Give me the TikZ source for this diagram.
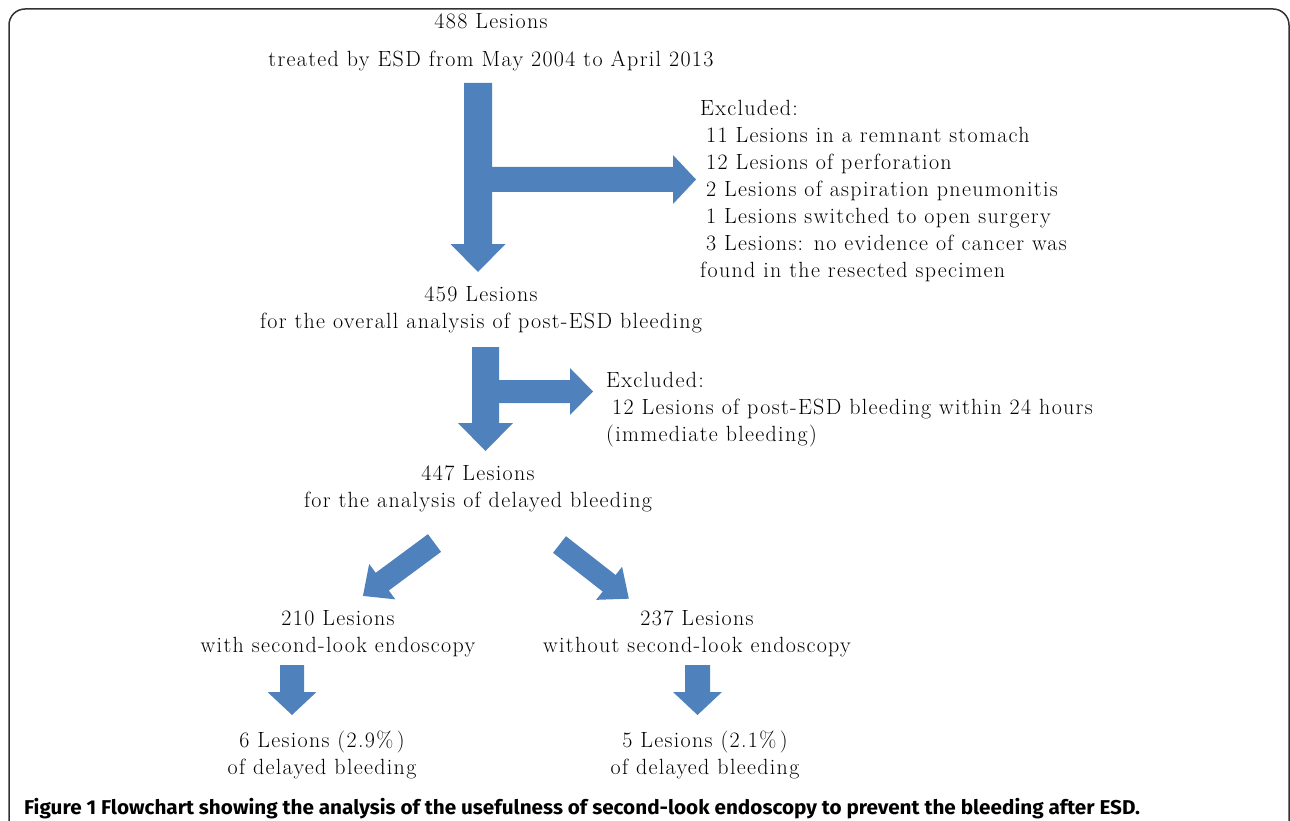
\documentclass[tikz,border=0pt]{standalone}
\usepackage{fontspec}
\newfontfamily\capfont{Fira Sans}
\newfontfamily\bodyfont{Latin Modern Roman}[LetterSpace=6]
\definecolor{arrowblue}{RGB}{79,129,189}
\definecolor{framegray}{RGB}{50,50,50}
\newcommand{\barrow}[7]{%
  \fill[arrowblue, shift={(#1,#2)}, rotate=#3] (0,-#5) -- ({#4-#7},-#5) -- ({#4-#7},-#6) -- (#4,0) -- ({#4-#7},#6) -- ({#4-#7},#5) -- (0,#5) -- cycle;}
\tikzset{
  txt/.style={inner sep=0pt, font=\bodyfont\fontsize{22}{27}\selectfont, align=center},
  txtl/.style={inner sep=0pt, font=\bodyfont\fontsize{22}{27}\selectfont, align=left, anchor=north west},
}
\begin{document}
\begin{tikzpicture}[x=1pt,y=-1pt]
\useasboundingbox (0,0) rectangle (1290,821);
% frame
\draw[framegray, line width=1.5pt, rounded corners=16pt] (9,830) -- (9,9) -- (1289,9) -- (1289,830);

% text blocks
\node[txt] (n488) at (491,42) {488 Lesions\\[11pt]treated by ESD from May 2004 to April 2013};
\node[txtl] (ex1) at (700,100) {Excluded:\\
\hspace{6pt}11 Lesions in a remnant stomach\\
\hspace{6pt}12 Lesions of perforation\\
\hspace{6pt}2 Lesions of aspiration pneumonitis\\
\hspace{6pt}1 Lesions switched to open surgery\\
\hspace{6pt}3 Lesions: no evidence of cancer was\\
found in the resected specimen};
\node[txt] (n459) at (481,310) {459 Lesions\\for the overall analysis of post-ESD bleeding};
\node[txtl] (ex2) at (606,372) {Excluded:\\
\hspace{6pt}12 Lesions of post-ESD bleeding within 24 hours\\
(immediate bleeding)};
\node[txt] (n447) at (478,489) {447 Lesions\\for the analysis of delayed bleeding};
\node[txt] (n210) at (338,634) {210 Lesions\\with second-look endoscopy};
\node[txt] (n237) at (697,634) {237 Lesions\\without second-look endoscopy};
\node[txt] (n6) at (322,755) {6 Lesions\ (2.9\%\,)\\of delayed bleeding};
\node[txt] (n5) at (705,755) {5 Lesions\ (2.1\%\,)\\of delayed bleeding};

% arrows
\barrow{478}{83}{-90}{189}{14}{27.5}{28}
\barrow{478}{179.5}{0}{218}{12.5}{24.5}{23}
\barrow{485.5}{347}{-90}{104}{13.5}{27.5}{28}
\barrow{485.5}{391.5}{0}{107.5}{11.5}{23.5}{23}
\barrow{434.5}{543}{-143.5}{89}{11}{22}{24}
\barrow{559.5}{544.5}{-38}{88}{10.5}{21}{25}
\barrow{292}{665}{-90}{50}{12}{24.5}{23}
\barrow{697.5}{665}{-90}{50}{12.5}{24.5}{23}

% caption
\node[inner sep=0pt, anchor=west, font=\capfont\bfseries\fontsize{20}{22}\selectfont] (cap) at (24,809) {\scalebox{1.035}[1]{Figure 1 Flowchart showing the analysis of the usefulness of second-look endoscopy to prevent the bleeding after ESD.}};
\end{tikzpicture}
\end{document}
